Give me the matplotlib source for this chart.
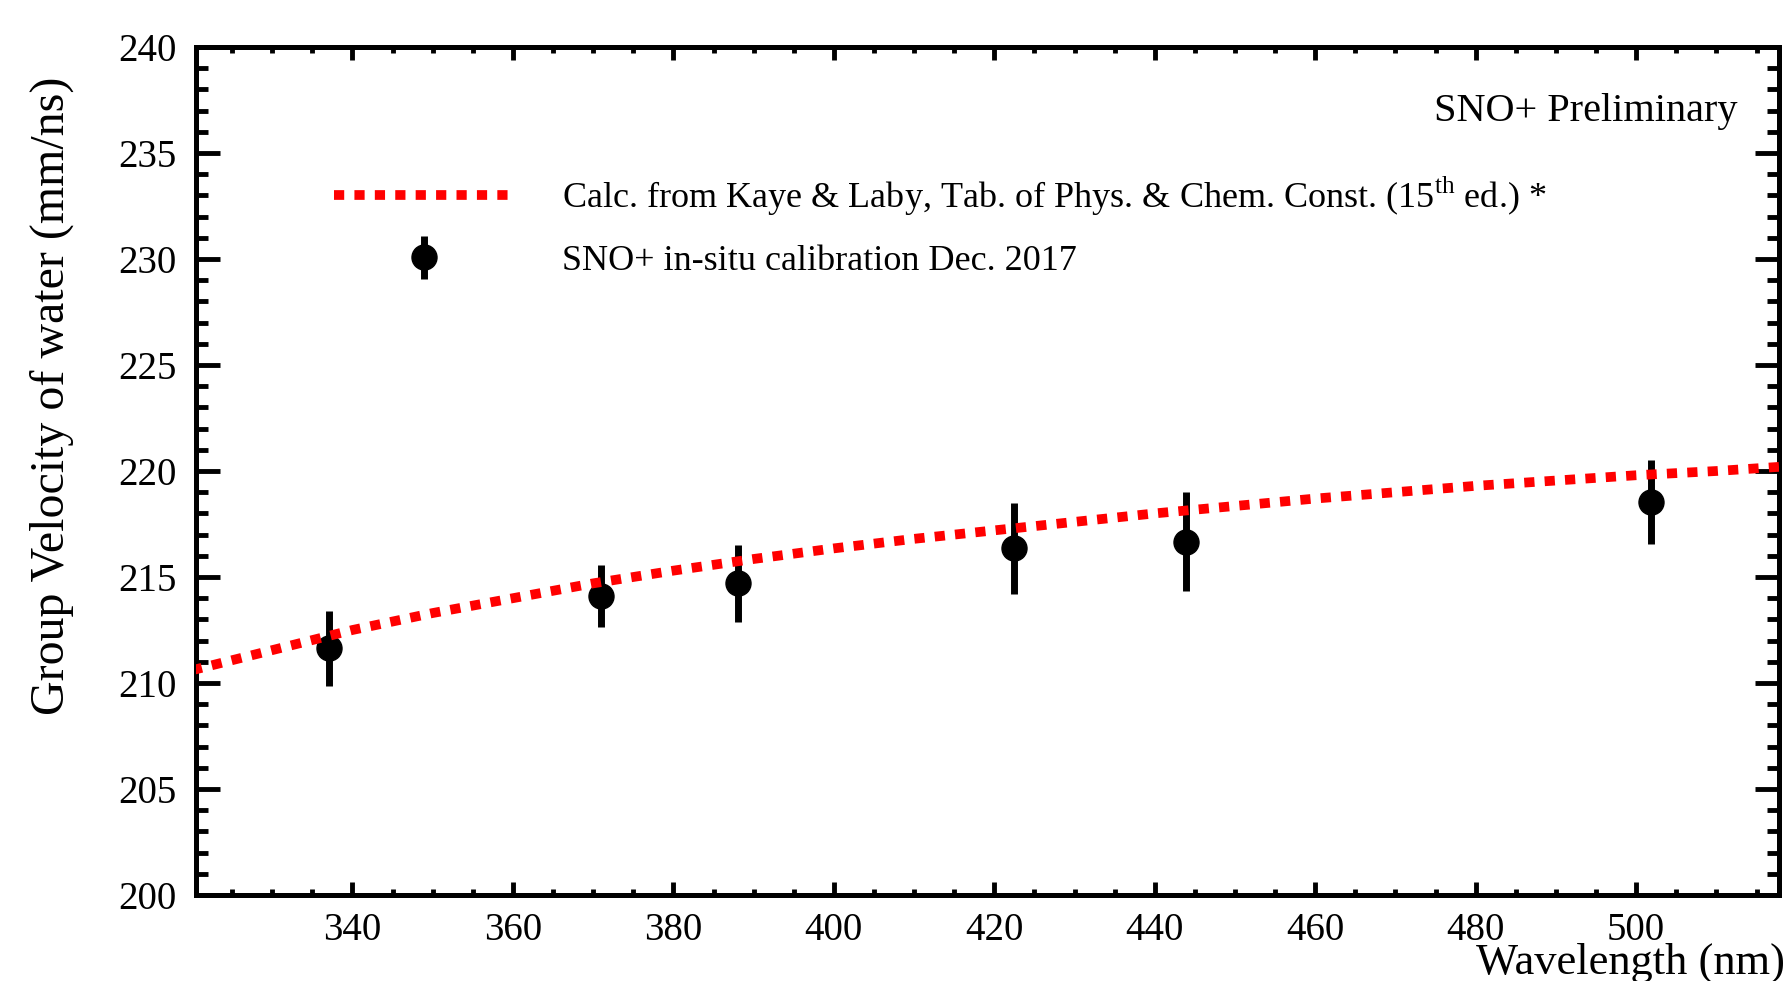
import matplotlib
matplotlib.use("Agg")
import matplotlib.pyplot as plt
from matplotlib.ticker import MultipleLocator
from matplotlib.legend_handler import HandlerErrorbar
from matplotlib.container import ErrorbarContainer

plt.rcParams['font.family'] = ['Liberation Serif', 'DejaVu Serif']
plt.rcParams['mathtext.fontset'] = 'custom'
plt.rcParams['mathtext.rm'] = 'Liberation Serif'

# calculated group velocity curve
calc_wl = [320, 330, 340, 350, 360, 370, 380, 390, 400, 410, 420,
           430, 440, 450, 460, 470, 480, 490, 500, 510, 520]
calc_v = [210.6, 211.55, 212.5, 213.3, 214.0, 214.7, 215.3, 215.85, 216.35, 216.8, 217.2,
          217.6, 218.0, 218.35, 218.7, 219.0, 219.3, 219.55, 219.8, 220.0, 220.25]

# in-situ calibration points
meas_wl = [337.1, 371.0, 388.0, 422.5, 443.9, 501.9]
meas_v = [211.64, 214.12, 214.70, 216.35, 216.67, 218.55]
meas_err = [1.77, 1.46, 1.81, 2.16, 2.34, 1.98]

calc_label = r"Calc. from Kaye & Laby, Tab. of Phys. & Chem. Const. (15$^{\rm th}$ ed.) *"
meas_label = "SNO+ in-situ calibration Dec. 2017"

fig = plt.figure(figsize=(17.85, 9.81), dpi=100)
ax = fig.add_axes([196 / 1785, 1 - 895 / 981, (1779 - 196) / 1785, (895 - 47) / 981])

ax.plot(calc_wl, calc_v, color="#ff0000", lw=7, linestyle=(0, (1.05, 1.05)),
        dash_capstyle="butt", label=calc_label, zorder=3)
ax.errorbar(meas_wl, meas_v, yerr=meas_err, fmt="o", color="black", ms=18,
            elinewidth=5, capsize=0, label=meas_label, zorder=2)

ax.set_xlim(320.5, 517.8)
ax.set_ylim(200, 240)
ax.xaxis.set_major_locator(MultipleLocator(20))
ax.xaxis.set_minor_locator(MultipleLocator(5))
ax.yaxis.set_major_locator(MultipleLocator(5))
ax.yaxis.set_minor_locator(MultipleLocator(1))

for s in ax.spines.values():
    s.set_linewidth(3.6)
ax.tick_params(which="both", direction="in", top=True, right=True, width=3.5,
               labelsize=28)
ax.tick_params(axis="x", which="major", length=9.5, pad=12)
ax.tick_params(axis="x", which="minor", length=4.5)
ax.tick_params(axis="y", which="major", length=17, pad=14)
ax.tick_params(axis="y", which="minor", length=8.5)

ax.set_xlabel("Wavelength (nm)", fontsize=32, ha="right", va="baseline")
ax.xaxis.set_label_coords(1.0035, -0.092)
ax.set_ylabel("Group Velocity of water (mm/ns)", fontsize=34.5, ha="right", va="center")
ax.yaxis.set_label_coords(-0.091, 0.965)

ax.text(0.974, 0.913, "SNO+ Preliminary", transform=ax.transAxes, fontsize=29,
        ha="right", va="baseline")

ax.legend(loc="upper left", bbox_to_anchor=(334 / 1785, 1 - 174.5 / 981),
          bbox_transform=fig.transFigure, frameon=False, fontsize=26,
          handlelength=5.0, handletextpad=1.3, labelspacing=0.74,
          borderpad=0, borderaxespad=0,
          handler_map={ErrorbarContainer: HandlerErrorbar(yerr_size=0.6)})

fig.savefig("out.png", dpi=100)
